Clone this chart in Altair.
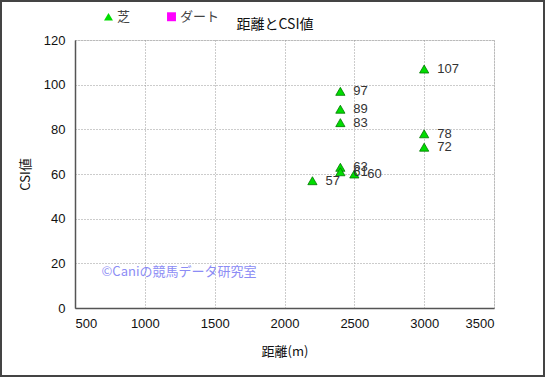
import altair as alt
import pandas as pd

# data
distance = [3000, 2400, 2400, 2400, 3000, 3000, 2400, 2400, 2500, 2200]
csi = [107, 97, 89, 83, 78, 72, 63, 61, 60, 57]
surface = ["芝"] * len(distance)
series_names = ["芝", "ダート"]
series_colors = ["#00dd00", "#ff00ff"]
series_shapes = ["triangle-up", "square"]
x_ticks = [500, 1000, 1500, 2000, 2500, 3000, 3500]
y_ticks = [0, 20, 40, 60, 80, 100, 120]
watermark_text = ["©Caniの競馬データ研究室"]
watermark_x = [690]
watermark_y = [16]
chart_title = ["距離とCSI値"]

df = pd.DataFrame({"距離": distance, "CSI": csi, "種別": surface,
                   "label": [str(v) for v in csi]})
wm = pd.DataFrame({"t": watermark_text, "x": watermark_x, "y": watermark_y})
tt = pd.DataFrame({"t": chart_title})

JP = "Noto Sans CJK JP"
LAT = "Liberation Sans"

W, H = 419, 268
PL, PT = 75, 40

xs = alt.Scale(domain=[500, 3500], nice=False, zero=False)
ys = alt.Scale(domain=[0, 120], nice=False)

xax = alt.Axis(values=x_ticks, format="d", title="距離(m)", grid=True, gridColor="#999999",
               gridDash=[1, 2], ticks=False, domainColor="#555555", domainWidth=1.5,
               labelFont=LAT, labelFontSize=13, labelColor="#111111", labelPadding=9,
               titleFont=JP, titleFontSize=13, titleFontWeight="normal",
               titleColor="#111111", titlePadding=15)
yax = alt.Axis(values=y_ticks, title="CSI値", grid=True, gridColor="#999999",
               gridDash=[1, 2], ticks=False, domainColor="#555555", domainWidth=1.5,
               labelFont=LAT, labelFontSize=13, labelColor="#111111", labelPadding=10,
               titleFont=JP, titleFontSize=13, titleFontWeight="normal",
               titleColor="#111111", titlePadding=11)

base = alt.Chart(df)

points = base.mark_point(filled=True, size=85, stroke="#007700", strokeWidth=0.8,
                         opacity=1).encode(
    x=alt.X("距離:Q", scale=xs, axis=xax),
    y=alt.Y("CSI:Q", scale=ys, axis=yax),
    color=alt.Color("種別:N", scale=alt.Scale(domain=series_names, range=series_colors),
                    legend=alt.Legend(title=None, orient="none", direction="horizontal",
                                      legendX=27, legendY=-30, labelFont=JP,
                                      labelFontSize=13, labelColor="#444444",
                                      symbolSize=80, symbolStrokeWidth=0,
                                      labelOffset=2, columnPadding=34)),
    shape=alt.Shape("種別:N", scale=alt.Scale(domain=series_names, range=series_shapes),
                    legend=None),
)

labels = base.mark_text(align="left", baseline="middle", dx=13, font=LAT,
                        fontSize=13, color="#333333").encode(
    x=alt.X("距離:Q", scale=xs),
    y=alt.Y("CSI:Q", scale=ys),
    text="label:N",
)

water = alt.Chart(wm).mark_text(align="left", baseline="middle", font=JP,
                                fontSize=13, color="#8c8cf5").encode(
    x=alt.X("x:Q", scale=xs),
    y=alt.Y("y:Q", scale=ys),
    text="t:N",
)

title = alt.Chart(tt).mark_text(align="center", baseline="middle", font=JP,
                                fontSize=14, color="#111111").encode(
    x=alt.value(200), y=alt.value(-15), text="t:N",
)

frame = alt.Chart(wm).mark_rect(fill=None, stroke="#444444", strokeWidth=2).encode(
    x=alt.value(-PL + 1), x2=alt.value(W + 51 - 1),
    y=alt.value(-PT + 1), y2=alt.value(H + 69 - 1),
)

chart = alt.layer(points, labels, water, title, frame).properties(
    width=W, height=H,
    padding={"left": PL, "top": PT, "right": 51, "bottom": 69},
    autosize=alt.AutoSizeParams(type="none"),
).configure_view(stroke="#aaaaaa", strokeWidth=1).configure(background="white")

chart.save("out.html", embed_options={"renderer": "svg", "actions": False})
